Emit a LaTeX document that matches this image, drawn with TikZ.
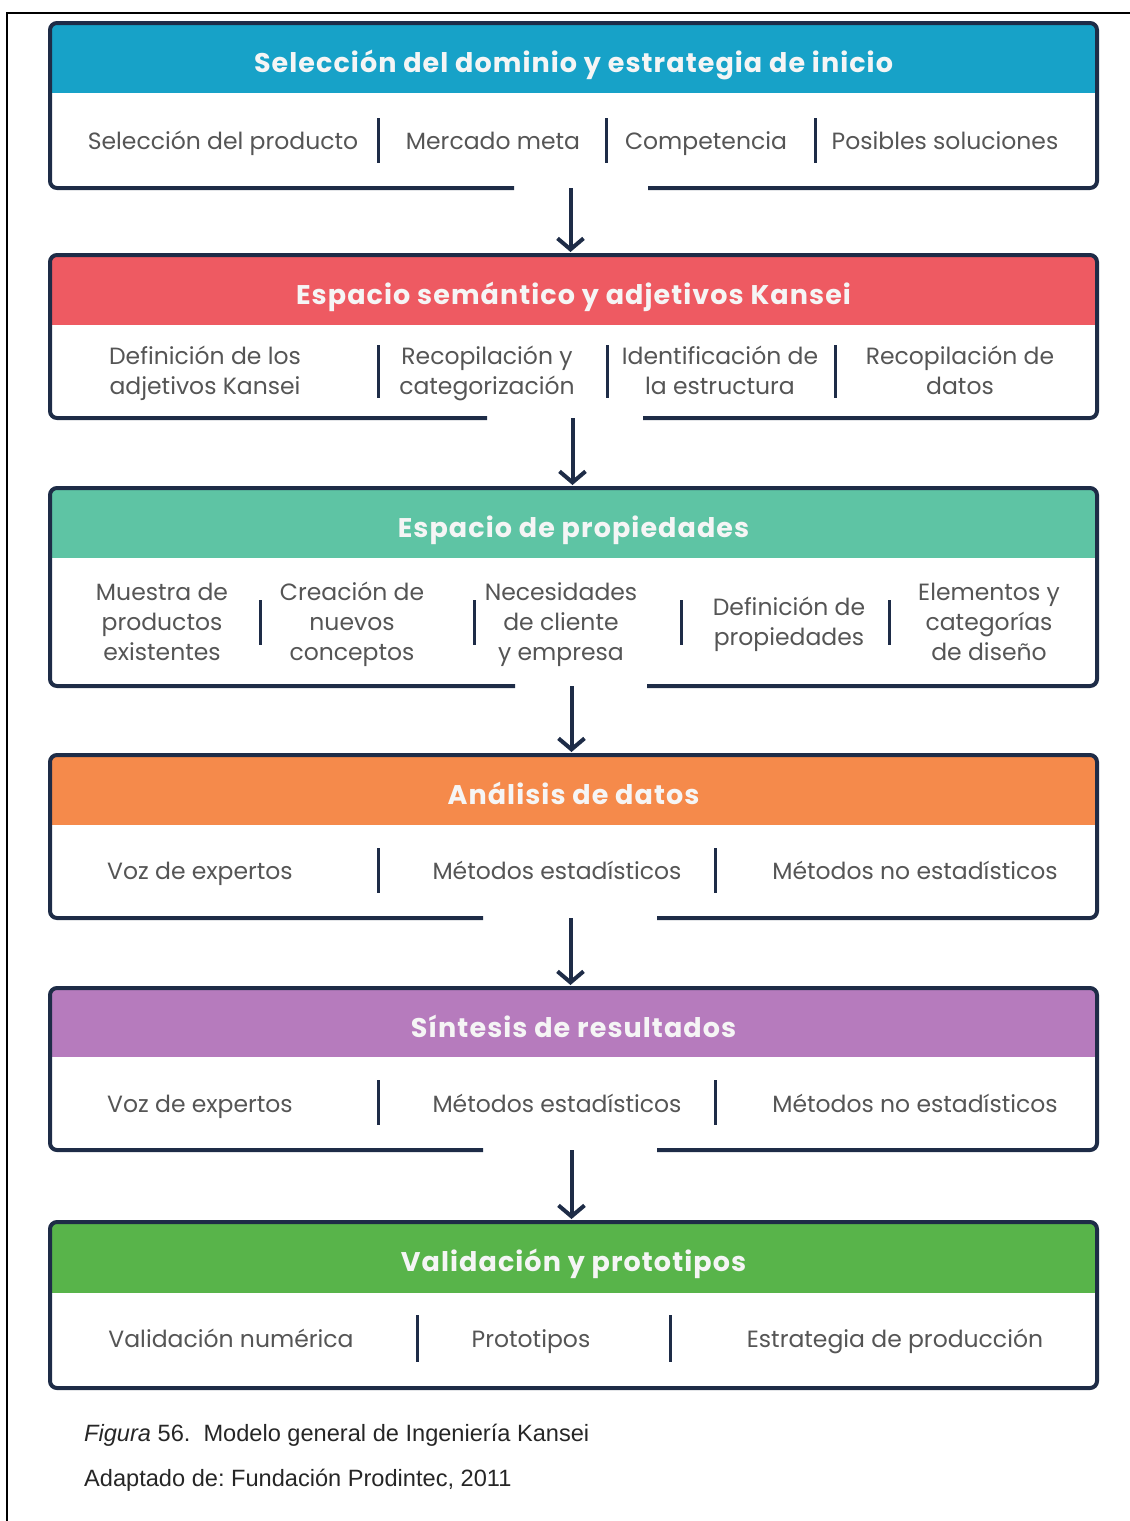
\documentclass[tikz,border=0pt]{standalone}
\usepackage{fontspec}
\setmainfont{Poppins}
\newfontfamily\capfont{Liberation Sans}
\usetikzlibrary{arrows.meta}

\definecolor{navy}{HTML}{1E2C47}
\definecolor{hdrA}{HTML}{17A2C8}
\definecolor{hdrB}{HTML}{EE5A62}
\definecolor{hdrC}{HTML}{5EC4A4}
\definecolor{hdrD}{HTML}{F58A4B}
\definecolor{hdrE}{HTML}{B67BBD}
\definecolor{hdrF}{HTML}{58B44A}
\definecolor{itemgray}{HTML}{555555}

\tikzset{
  stagebox/.style={minimum width=1047pt, inner sep=0pt, outer sep=0pt},
  border/.style={navy, line width=4pt, rounded corners=7pt},
  title/.style={text=white!96!black, anchor=base, inner sep=0pt,
    font=\fontsize{27}{31}\selectfont\bfseries\addfontfeatures{LetterSpace=4}},
  item/.style={text=itemgray, align=center, inner sep=0pt,
    font=\fontsize{23.5}{30}\selectfont,
    execute at begin node=\strut, execute at end node=\strut},
  sep/.style={navy, line width=3pt},
  flow/.style={navy, line width=4pt,
    -{Straight Barb[length=11pt, width=26pt, line width=4pt]}, shorten >=3pt},
  caption/.style={anchor=base west, inner sep=0pt,
    font=\capfont\fontsize{23.6}{28}\selectfont, text=black!85}
}

% #1 name, #2 top, #3 header bottom, #4 bottom, #5/#6 gap in the bottom edge,
% #7 header colour, #8 title
\newcommand\kstage[8]{%
  \node[stagebox, minimum height={#4-#2}] (#1) at (573.5,{(#2+#4)/2}) {};
  \begin{scope}
    \clip[rounded corners=7pt] (50,#2) rectangle (1097,#4);
    \fill[#7] (50,#2) rectangle (1097,#3);
  \end{scope}
  \draw[border] (#5,#4) -- (50,#4) -- (50,#2) -- (1097,#2) -- (1097,#4) -- (#6,#4);
  \node[title] (#1-t) at (573.5,{#2+49}) {#8};
}

\begin{document}
\begin{tikzpicture}[x=1pt, y=-1pt]
\useasboundingbox (0,0) rectangle (1130,1521);

% page frame (top and left edges)
\draw[line width=2pt] (7,1521) -- (7,13) -- (1130,13);

% ---------- stage 1 ----------
\kstage{s1}{23}{93}{188}{514}{648}{hdrA}{Selección del dominio y estrategia de inicio}
\node[item] (s1a) at (223,143) {Selección del producto};
\node[item] (s1b) at (493,143) {Mercado meta};
\node[item] (s1c) at (706,143) {Competencia};
\node[item] (s1d) at (945,143) {Posibles soluciones};
\foreach \x in {378,606,815} \draw[sep] (\x,118) -- (\x,163);

% ---------- stage 2 ----------
\kstage{s2}{255}{325}{418}{487}{643}{hdrB}{Espacio semántico y adjetivos Kansei}
\node[item] (s2a) at (205,375) {Definición de los\\adjetivos Kansei};
\node[item] (s2b) at (487,375) {Recopilación y\\categorización};
\node[item] (s2c) at (720,375) {Identificación de\\la estructura};
\node[item] (s2d) at (960,375) {Recopilación de\\datos};
\foreach \x in {378,607,835} \draw[sep] (\x,345) -- (\x,398);

% ---------- stage 3 ----------
\kstage{s3}{488}{558}{686}{515}{647}{hdrC}{Espacio de propiedades}
\node[item] (s3a) at (162,626) {Muestra de\\productos\\existentes};
\node[item] (s3b) at (352,626) {Creación de\\nuevos\\conceptos};
\node[item] (s3c) at (561,626) {Necesidades\\de cliente\\y empresa};
\node[item] (s3d) at (789,626) {Definición de\\propiedades};
\node[item] (s3e) at (989,626) {Elementos y\\categorías\\de diseño};
\foreach \x in {260,474,681,889} \draw[sep] (\x,600) -- (\x,645);

% ---------- stage 4 ----------
\kstage{s4}{755}{825}{918}{483}{657}{hdrD}{Análisis de datos}
\node[item] (s4a) at (200,873) {Voz de expertos};
\node[item] (s4b) at (557,873) {Métodos estadísticos};
\node[item] (s4c) at (915,873) {Métodos no estadísticos};
\foreach \x in {378,715} \draw[sep] (\x,848) -- (\x,893);

% ---------- stage 5 ----------
\kstage{s5}{988}{1057}{1150}{483}{657}{hdrE}{Síntesis de resultados}
\node[item] (s5a) at (200,1106) {Voz de expertos};
\node[item] (s5b) at (557,1106) {Métodos estadísticos};
\node[item] (s5c) at (915,1106) {Métodos no estadísticos};
\foreach \x in {378,715} \draw[sep] (\x,1080) -- (\x,1125);

% ---------- stage 6 ----------
\kstage{s6}{1222}{1293}{1388}{573}{573}{hdrF}{Validación y prototipos}
\node[item] (s6a) at (231,1341) {Validación numérica};
\node[item] (s6b) at (531,1341) {Prototipos};
\node[item] (s6c) at (895,1341) {Estrategia de producción};
\foreach \x in {417,670} \draw[sep] (\x,1315) -- (\x,1362);

% ---------- flow between stages ----------
\draw[flow] ([xshift=-3pt]s1.south) -- ([xshift=-3pt]s2.north);
\draw[flow] ([xshift=-1pt]s2.south) -- ([xshift=-1pt]s3.north);
\draw[flow] ([xshift=-2pt]s3.south) -- ([xshift=-2pt]s4.north);
\draw[flow] ([xshift=-3pt]s4.south) -- ([xshift=-3pt]s5.north);
\draw[flow] ([xshift=-2pt]s5.south) -- ([xshift=-2pt]s6.north);

% ---------- caption ----------
\node[caption] (cap1) at (84,1441) {\itshape Figura\upshape{} 56.\ \ Modelo general de Ingeniería Kansei};
\node[caption] (cap2) at (84,1486) {Adaptado de:\ Fundación Prodintec, 2011};
\end{tikzpicture}
\end{document}
